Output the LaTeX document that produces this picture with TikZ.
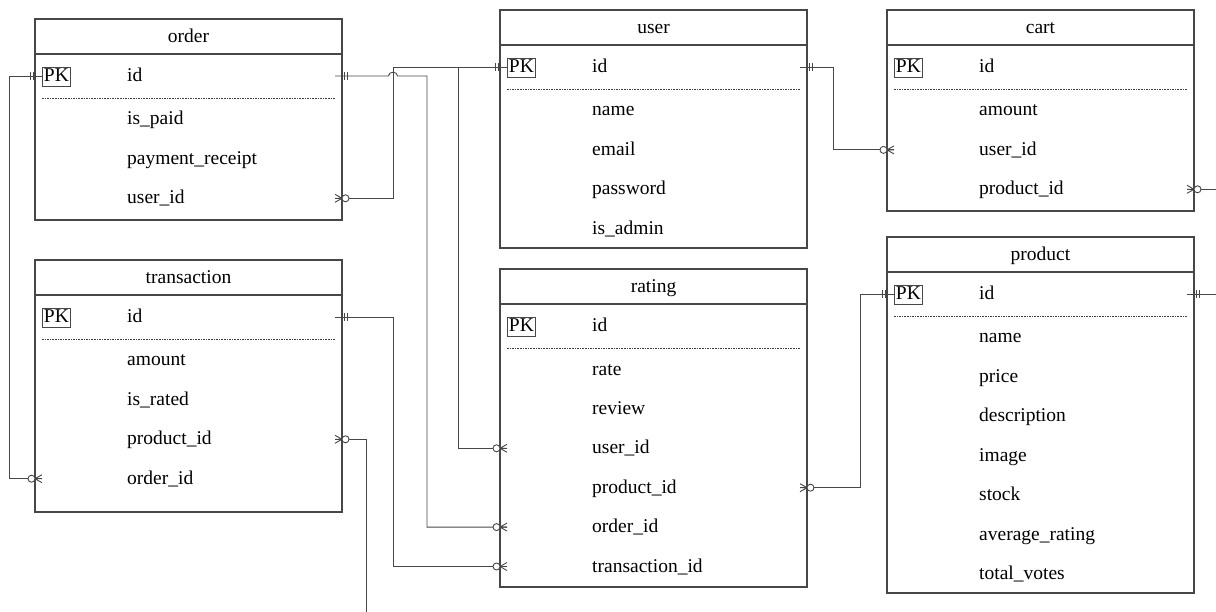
\documentclass[tikz,border=0pt]{standalone}
\usepackage{fontspec}
\setmainfont{Liberation Serif}
\usetikzlibrary{calc}
\colorlet{linec}{black!72}
\tikzset{
  tbl/.style={draw=linec, line width=1.1pt, fill=white, inner sep=0pt, outer sep=0pt, anchor=north west, minimum width=307pt},
  tline/.style={draw=linec, line width=1.1pt},
  efont/.style={font=\fontsize{19.5pt}{22pt}\selectfont},
  fld/.style={efont, anchor=west, inner sep=0pt, text height=11pt, text depth=0pt},
  ttl/.style={efont, inner sep=0pt, text height=11pt, text depth=0pt},
  pkbox/.style={efont, draw=linec, line width=0.9pt, anchor=west, inner xsep=1.5pt, inner ysep=2pt, text height=13pt, text depth=2pt},
  sep/.style={draw=black!75, line width=0.7pt, dash pattern=on 1.6pt off 1pt},
  conn/.style={draw=linec, line width=0.9pt},
  mk/.style={draw=linec, line width=0.9pt},
  one/.pic={\draw[mk] (2,-4) -- (2,4) (5,-4) -- (5,4);},
  zmany/.pic={\draw[mk] (0,0) -- (-7,-4) (0,0) -- (-7,0) (0,0) -- (-7,4); \draw[mk, fill=white] (3.5,0) circle[radius=3.5pt];}
}
\newcommand\ertbl[6]{%
  \node[tbl, minimum height={#4-#3}] (#1) at (#2,#3) {};
  \draw[tline] ($(#1.north west)+(0,35)$) -- ($(#1.north east)+(0,35)$);
  \node[ttl] (#1-title) at ($(#1.north)+(0,18)$) {#5};
  \node[pkbox] (#1-pk) at ({#2+7},{#3+57.5}) {PK};
  \node[fld] (#1-id) at ({#2+92},{#3+57}) {id};
  \coordinate (#1-id-l) at ($(#1.west |- #1-id.west)+(7,0)$);
  \coordinate (#1-id-r) at ($(#1.east |- #1-id.west)+(-7,0)$);
  \coordinate (#1-id-L) at (#1.west |- #1-id.west);
  \coordinate (#1-id-R) at (#1.east |- #1-id.west);
  \draw[sep] ({#2+7},{#3+79}) -- ({#2+300},{#3+79});
  \foreach \fk/\fl [count=\ri] in {#6} {%
    \node[fld] (#1-\fk) at ({#2+92},{#3+100.5+39.4*(\ri-1)}) {\fl};
    \coordinate (#1-\fk-l) at ($(#1.west |- #1-\fk.west)+(7,0)$);
    \coordinate (#1-\fk-r) at ($(#1.east |- #1-\fk.west)+(-7,0)$);
    \coordinate (#1-\fk-L) at (#1.west |- #1-\fk.west);
    \coordinate (#1-\fk-R) at (#1.east |- #1-\fk.west);
  }%
}
\begin{document}
\begin{tikzpicture}[x=1pt,y=-1pt]
\fill[white] (0,0) rectangle (1216,612);
\useasboundingbox (0,0) rectangle (1216,612);

\ertbl{order}{35}{19}{220}{order}{ispaid/is\_paid,receipt/payment\_receipt,userid/user\_id}
\ertbl{transaction}{35}{260}{512}{transaction}{amount/amount,israted/is\_rated,productid/product\_id,orderid/order\_id}
\ertbl{user}{500}{10}{248}{user}{name/name,email/email,password/password,isadmin/is\_admin}
\ertbl{rating}{500}{269}{587}{rating}{rate/rate,review/review,userid/user\_id,productid/product\_id,orderid/order\_id,transactionid/transaction\_id}
\ertbl{cart}{887}{10}{211}{cart}{amount/amount,userid/user\_id,productid/product\_id}
\ertbl{product}{887}{237}{593}{product}{name/name,price/price,description/description,image/image,stock/stock,avg/average\_rating,votes/total\_votes}

\coordinate (xA) at (9,0);
\coordinate (xB) at (427,0);
\coordinate (xC) at (393,0);
\coordinate (xE) at (458,0);
\coordinate (xD) at (833,0);
\coordinate (xG) at (366,0);
\coordinate (xH) at (860,0);
\coordinate (iA) at (1216,0);
\coordinate (gEnd) at (366,612);

% order.id -> transaction.order_id
\draw[conn] (order-id-l) -- (xA |- order-id-l) -- (xA |- transaction-orderid-l) -- (transaction-orderid-l);
% order.id -> rating.order_id (with hop)
\draw[conn] (order-id-r) -- ($(xC |- order-id-r)+(-4.5,0)$) .. controls +(0,-5) and +(0,-5) .. ($(xC |- order-id-r)+(4.5,0)$) -- (xB |- order-id-r) -- (xB |- rating-orderid-l) -- (rating-orderid-l);
% order.user_id -> user.id
\draw[conn] (order-userid-r) -- (xC |- order-userid-r) -- (xC |- user-id-l) -- (user-id-l);
% user.id -> rating.user_id
\draw[conn] (user-id-l) -- (xE |- user-id-l) -- (xE |- rating-userid-l) -- (rating-userid-l);
% user.id -> cart.user_id
\draw[conn] (user-id-r) -- (xD |- user-id-r) -- (xD |- cart-userid-l) -- (cart-userid-l);
% transaction.id -> rating.transaction_id
\draw[conn] (transaction-id-r) -- (xC |- transaction-id-r) -- (xC |- rating-transactionid-l) -- (rating-transactionid-l);
% transaction.product_id -> off page
\draw[conn] (transaction-productid-r) -- (xG |- transaction-productid-r) -- (gEnd);
% product.id -> rating.product_id
\draw[conn] (product-id-l) -- (xH |- product-id-l) -- (xH |- rating-productid-r) -- (rating-productid-r);
% cart.product_id / product.id -> right edge
\draw[conn] (cart-productid-r) -- (iA |- cart-productid-r);
\draw[conn] (product-id-r) -- (iA |- product-id-r);

% markers
\pic[rotate=180] at (order-id-L) {one};
\pic[rotate=180] at (transaction-orderid-L) {zmany};
\pic at (order-id-R) {one};
\pic[rotate=180] at (rating-orderid-L) {zmany};
\pic at (order-userid-R) {zmany};
\pic[rotate=180] at (user-id-L) {one};
\pic[rotate=180] at (rating-userid-L) {zmany};
\pic at (user-id-R) {one};
\pic[rotate=180] at (cart-userid-L) {zmany};
\pic at (transaction-id-R) {one};
\pic[rotate=180] at (rating-transactionid-L) {zmany};
\pic at (transaction-productid-R) {zmany};
\pic[rotate=180] at (product-id-L) {one};
\pic at (rating-productid-R) {zmany};
\pic at (cart-productid-R) {zmany};
\pic at (product-id-R) {one};
\end{tikzpicture}
\end{document}
